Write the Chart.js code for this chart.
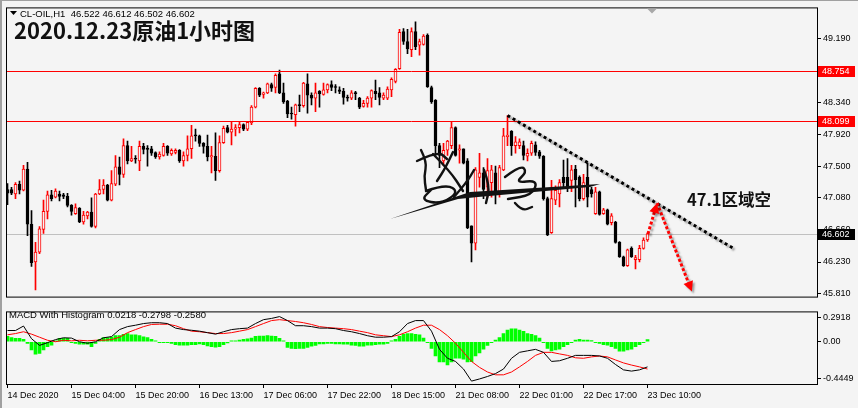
<!DOCTYPE html>
<html>
<head>
<meta charset="utf-8">
<script src="https://cdn.jsdelivr.net/npm/chart.js@4.4.1/dist/chart.umd.min.js"></script>
<style>
html, body { margin: 0; padding: 0; background: #f4f4f4; }
#wrap { position: relative; width: 858px; height: 408px; overflow: hidden; background: #f4f4f4; border-top: 1px solid #a0a0a0; border-left: 2px solid #a0a0a0; box-sizing: border-box; }
canvas { position: absolute; left: -2px; }
#main { top: -1px; }
#macd { top: 303px; }
.txt { position: absolute; white-space: pre; line-height: 1; color: #000; }
.small { font: 9.5px "Liberation Sans", Arial, sans-serif; }
.big { font-family: "Noto Sans CJK SC", sans-serif; font-weight: bold; color: #111; }
</style>
</head>
<body>
<div id="wrap">
  <canvas id="main" width="858" height="304"></canvas>
  <canvas id="macd" width="858" height="104"></canvas>
  <div class="txt small" style="left:18px; top:7.3px;">CL-OIL,H1  46.522 46.612 46.502 46.602</div>
  <div class="txt big" style="left:12px; top:17.2px; font-size:22px;">2020.12.23原油1小时图</div>
  <div class="txt big" style="left:685px; top:189.6px; font-size:16.5px;">47.1区域空</div>
  <div class="txt small" style="left:7px; top:307.5px;">MACD With Histogram 0.0218 -0.2798 -0.2580</div>
</div>
<script>
// x axis labels, one every 16 hourly bars
const tickLabels = ['14 Dec 2020', '15 Dec 04:00', '15 Dec 20:00', '16 Dec 13:00', '17 Dec 06:00',
  '17 Dec 22:00', '18 Dec 15:00', '21 Dec 08:00', '22 Dec 01:00', '22 Dec 17:00', '23 Dec 10:00'];

// CL-OIL H1 candles
const opens = [
  47.19,47.19,47.13,47.26,47.18,47.46,46.73,46.23,46.36,46.66,
  46.90,47.12,47.09,47.13,47.12,47.10,46.98,46.87,46.94,46.76,
  46.84,46.89,46.70,47.13,47.19,47.25,47.05,47.26,47.49,47.39,
  47.77,47.57,47.60,47.57,47.76,47.74,47.73,47.68,47.62,47.64,
  47.76,47.66,47.68,47.71,47.57,47.64,47.73,47.91,47.90,47.80,
  47.76,47.62,47.63,47.44,47.81,48.01,47.95,47.99,48.01,48.05,
  47.99,48.07,48.28,48.53,48.45,48.47,48.58,48.54,48.72,48.47,
  48.36,48.20,48.18,48.31,48.30,48.59,48.44,48.40,48.49,48.45,
  48.51,48.58,48.55,48.51,48.49,48.41,48.40,48.47,48.40,48.29,
  48.33,48.40,48.49,48.47,48.40,48.40,48.51,48.62,48.79,49.28,
  49.15,49.04,49.28,49.10,49.11,49.23,48.54,48.37,47.77,47.57,
  47.71,47.77,48.01,47.71,47.73,47.57,46.71,46.48,47.35,47.41,
  47.22,47.28,47.41,47.13,47.45,47.89,47.96,47.77,47.77,47.77,
  47.63,47.67,47.78,47.69,47.63,47.07,46.62,47.05,47.13,47.35,
  47.35,47.31,47.46,47.35,47.07,47.35,47.19,46.87,47.16,46.87,
  46.92,46.75,46.76,46.49,46.30,46.18,46.41,46.26,46.26,46.41,
  46.522];
const highs = [
  47.27,47.22,47.28,47.30,47.51,47.55,46.91,46.49,46.70,47.05,
  47.17,47.18,47.20,47.17,47.14,47.14,46.99,47.00,46.95,46.90,
  46.90,47.08,47.14,47.32,47.32,47.26,47.44,47.64,47.62,47.86,
  47.83,47.76,47.64,47.83,47.80,47.77,47.76,47.69,47.69,47.80,
  47.77,47.73,47.73,47.72,47.69,47.90,48.04,47.99,47.91,47.81,
  47.91,47.76,47.94,47.90,48.03,48.04,48.08,48.05,48.08,48.06,
  48.09,48.30,48.54,48.54,48.48,48.60,48.60,48.72,48.77,48.60,
  48.37,48.28,48.32,48.44,48.61,48.72,48.47,48.60,48.50,48.60,
  48.59,48.63,48.58,48.55,48.53,48.44,48.50,48.49,48.41,48.37,
  48.42,48.51,48.64,48.54,48.47,48.55,48.67,48.79,49.31,49.32,
  49.31,49.33,49.41,49.18,49.24,49.25,48.56,48.38,47.80,47.80,
  47.84,48.08,48.02,47.78,47.73,47.60,46.71,47.48,47.67,47.48,
  47.60,47.51,47.50,47.51,48.00,48.17,47.97,47.89,47.86,47.83,
  47.73,47.83,47.82,47.71,47.64,47.09,47.31,47.24,47.32,47.58,
  47.60,47.51,47.51,47.37,47.39,47.54,47.22,47.22,47.17,46.94,
  46.93,46.87,46.77,46.50,46.31,46.40,46.43,46.32,46.45,46.55,
  46.612];
const lows = [
  46.99,47.12,47.07,47.13,47.17,46.58,46.17,45.86,46.34,46.61,
  46.80,47.04,47.08,47.04,47.07,46.96,46.85,46.86,46.75,46.73,
  46.80,46.69,46.68,47.12,47.13,47.04,47.04,47.24,47.25,47.35,
  47.53,47.56,47.54,47.44,47.66,47.50,47.64,47.60,47.59,47.63,
  47.64,47.64,47.66,47.55,47.50,47.57,47.60,47.83,47.76,47.67,
  47.57,47.41,47.31,47.42,47.80,47.94,47.78,47.90,47.94,47.97,
  47.97,48.05,48.27,48.42,48.40,48.46,48.49,48.47,48.46,48.33,
  48.14,48.12,48.03,48.22,48.28,48.20,48.31,48.22,48.28,48.44,
  48.47,48.50,48.47,48.46,48.32,48.36,48.38,48.38,48.26,48.28,
  48.28,48.28,48.38,48.31,48.38,48.38,48.42,48.60,48.78,49.11,
  48.99,48.95,49.04,48.97,49.10,48.54,48.33,47.64,47.48,47.51,
  47.64,47.73,47.63,47.54,47.53,46.67,46.23,46.39,47.22,47.07,
  47.09,47.09,47.00,47.09,47.44,47.77,47.64,47.67,47.73,47.58,
  47.57,47.64,47.64,47.60,47.05,46.58,46.61,46.99,46.96,47.22,
  47.16,47.16,46.96,47.04,47.05,46.96,47.09,46.86,46.85,46.86,
  46.72,46.72,46.48,46.29,46.17,46.17,46.29,46.14,46.23,46.40,
  46.502];
const closes = [
  47.14,47.14,47.26,47.18,47.46,46.73,46.22,46.36,46.67,46.90,
  47.12,47.07,47.17,47.10,47.10,46.98,46.90,46.95,46.76,46.85,
  46.89,46.70,47.13,47.19,47.25,47.05,47.27,47.49,47.39,47.77,
  47.57,47.60,47.59,47.76,47.72,47.72,47.67,47.62,47.66,47.76,
  47.67,47.71,47.71,47.57,47.64,47.73,47.90,47.90,47.80,47.76,
  47.62,47.64,47.44,47.81,48.00,47.95,47.99,48.01,48.05,47.99,
  48.08,48.28,48.53,48.44,48.47,48.59,48.53,48.70,48.47,48.35,
  48.19,48.19,48.31,48.30,48.60,48.44,48.40,48.47,48.46,48.51,
  48.58,48.54,48.54,48.49,48.41,48.40,48.47,48.46,48.28,48.33,
  48.40,48.50,48.46,48.41,48.44,48.52,48.65,48.78,49.27,49.15,
  49.05,49.28,49.08,49.15,49.22,48.55,48.35,47.77,47.64,47.71,
  47.83,48.01,47.64,47.73,47.54,46.68,46.48,47.45,47.41,47.19,
  47.44,47.45,47.16,47.48,47.90,47.91,47.77,47.82,47.82,47.64,
  47.67,47.80,47.68,47.63,47.07,46.59,47.07,47.18,47.28,47.28,
  47.22,47.45,47.32,47.07,47.28,47.09,47.13,47.16,46.86,46.92,
  46.73,46.84,46.49,46.30,46.18,46.39,46.30,46.29,46.41,46.52,
  46.602];

// MACD histogram, one per bar
const hist = [
  .066,.05,.04,.04,.03,-.02,-.10,-.15,-.14,-.10,
  -.06,-.04,.01,.04,.04,.04,-.01,-.02,-.03,-.03,
  -.03,-.06,-.02,.03,.05,.05,.055,.075,.075,.09,
  .10,.085,.085,.075,.06,.05,.03,.01,-.01,-.01,
  -.01,-.02,-.035,-.04,-.04,-.04,-.035,-.035,-.025,-.035,
  -.05,-.06,-.065,-.06,-.035,-.015,.01,.01,.02,.03,
  .035,.045,.065,.07,.07,.075,.07,.065,.04,.01,
  -.07,-.08,-.085,-.08,-.08,-.07,-.055,-.045,-.025,-.025,
  -.02,-.02,-.025,-.025,-.03,-.03,-.04,-.045,-.055,-.055,
  -.04,-.04,-.035,-.03,-.03,-.02,.005,.03,.065,.09,
  .10,.10,.09,.085,.045,-.01,-.08,-.17,-.245,-.245,
  -.28,-.245,-.20,-.20,-.21,-.245,-.24,-.17,-.135,-.09,
  -.045,-.01,.02,.05,.10,.14,.155,.155,.14,.125,
  .10,.09,.075,.045,-.01,-.08,-.11,-.10,-.09,-.06,
  -.035,-.01,.02,.03,.02,.02,.015,-.01,-.02,-.035,
  -.04,-.06,-.08,-.115,-.115,-.10,-.09,-.06,-.035,-.01,
  .025];

// MACD and signal lines, read every second bar
const lineStep = 2;
const macdLine = [
  .136,.136,.19,.037,-.044,-.011,.026,.048,.044,0,
  -.018,0,.048,.062,.147,.183,.20,.22,.23,.23,
  .22,.165,.147,.139,.128,.11,.092,.121,.147,.158,
  .165,.22,.267,.282,.304,.256,.194,.194,.183,.165,
  .165,.158,.136,.121,.099,.073,.055,.055,.062,.121,
  .22,.256,.256,.128,-.092,-.20,-.238,-.33,-.476,-.45,
  -.42,-.385,-.33,-.20,-.128,-.11,-.092,-.128,-.238,-.23,
  -.20,-.165,-.165,-.165,-.172,-.20,-.275,-.34,-.355,-.34,
  -.304];
const signalLine = [
  .084,.099,.121,.092,.055,.018,0,.018,.011,.018,
  .011,.018,.018,.026,.055,.11,.147,.183,.209,.212,
  .212,.194,.158,.128,.121,.11,.099,.099,.11,.128,
  .147,.183,.22,.256,.267,.256,.245,.23,.209,.183,
  .172,.165,.158,.147,.128,.11,.084,.073,.062,.084,
  .121,.165,.20,.20,.147,.073,-.018,-.128,-.238,-.31,
  -.366,-.40,-.40,-.366,-.304,-.238,-.165,-.128,-.128,-.147,
  -.165,-.194,-.20,-.183,-.172,-.183,-.22,-.256,-.282,-.304,
  -.33];

const priceTicks = [45.81, 46.23, 46.66, 47.08, 47.50, 47.92, 48.34, 49.19];
const macdTicks = [0.2918, 0, -0.4449];
const macdTickText = ['0.2918', '0.00', '-0.4449'];
const levels = [48.754, 48.099];
const bid = 46.602;

// drawn objects: trend line and the red forecast arrow (bar index, price)
const trendIdx = [125, 181.5];
const trendPrice = [48.17, 46.41];
const arrowIdx = [160.1, 162.4, 171.1];
const arrowPrice = [46.60, 47.01, 45.84];

const bull = '#ff0000', bear = '#000000', bg = '#f4f4f4';
const font9 = { family: 'Liberation Sans', size: 9 };
const up = closes.map((c, i) => c >= opens[i]);

const xRange = { min: -0.375, max: 202.375 };

function frame(chart) {
  const { ctx, chartArea: a } = chart;
  ctx.save();
  ctx.strokeStyle = '#000';
  ctx.lineWidth = 1;
  ctx.strokeRect(a.left + 0.5, a.top + 0.5, a.right - a.left, a.bottom - a.top);
  ctx.restore();
}

function dotted(ctx, pts, color, dash) {
  ctx.strokeStyle = color;
  ctx.lineWidth = 3;
  ctx.setLineDash(dash);
  ctx.beginPath();
  ctx.moveTo(pts[0][0], pts[0][1]);
  for (let k = 1; k < pts.length; k++) ctx.lineTo(pts[k][0], pts[k][1]);
  ctx.stroke();
  ctx.setLineDash([]);
}

function head(ctx, from, to, color) {
  const ang = Math.atan2(to[1] - from[1], to[0] - from[0]);
  const L = 10, W = 5;
  ctx.fillStyle = color;
  ctx.beginPath();
  ctx.moveTo(to[0], to[1]);
  ctx.lineTo(to[0] - L * Math.cos(ang) + W * Math.sin(ang), to[1] - L * Math.sin(ang) - W * Math.cos(ang));
  ctx.lineTo(to[0] - L * Math.cos(ang) - W * Math.sin(ang), to[1] - L * Math.sin(ang) + W * Math.cos(ang));
  ctx.closePath();
  ctx.fill();
}

// watermark signature, rough freehand strokes
const sigStrokes = [
  [[421,150],[427,162],[424,176],[426,190]],
  [[417,161],[438,151],[447,159]],
  [[433,154],[450,171],[463,191]],
  [[453,152],[446,167],[437,181]],
  [[426,191],[446,184],[459,192],[441,204],[421,200],[431,190]],
  [[454,197],[467,182],[474,170]],
  [[484,170],[490,186],[486,203]],
  [[505,177],[521,165],[527,172],[515,183],[538,180],[532,195],[508,199]],
  [[515,203],[522,211],[532,207]]
];

const mainDecor = {
  id: 'mainDecor',
  beforeDatasetsDraw(chart) {
    const { ctx, chartArea: a, scales: { y } } = chart;
    ctx.save();
    ctx.fillStyle = '#c0c0c0';
    ctx.fillRect(a.left, Math.round(y.getPixelForValue(bid)), a.right - a.left, 1);
    ctx.restore();
  },
  afterDatasetsDraw(chart) {
    const { ctx, chartArea: a, scales: { x, y } } = chart;
    ctx.save();
    // horizontal levels
    ctx.strokeStyle = '#ff0000';
    ctx.lineWidth = 1;
    levels.forEach(v => {
      const py = Math.round(y.getPixelForValue(v)) + 0.5;
      ctx.beginPath();
      ctx.moveTo(a.left, py);
      ctx.lineTo(a.right, py);
      ctx.stroke();
    });
    // signature
    ctx.strokeStyle = '#111';
    ctx.lineCap = 'round';
    ctx.lineJoin = 'round';
    ctx.lineWidth = 2.4;
    sigStrokes.forEach(s => {
      ctx.beginPath();
      ctx.moveTo(s[0][0], s[0][1]);
      for (let k = 1; k < s.length - 1; k++) {
        const mx = (s[k][0] + s[k + 1][0]) / 2, my = (s[k][1] + s[k + 1][1]) / 2;
        ctx.quadraticCurveTo(s[k][0], s[k][1], mx, my);
      }
      ctx.lineTo(s[s.length - 1][0], s[s.length - 1][1]);
      ctx.stroke();
    });
    ctx.fillStyle = '#111';
    ctx.beginPath();
    ctx.moveTo(390, 219); ctx.lineTo(470, 192); ctx.lineTo(600, 184);
    ctx.lineTo(590, 187); ctx.lineTo(478, 197); ctx.lineTo(458, 199);
    ctx.closePath();
    ctx.fill();

    // trend line and arrow with soft shadow
    ctx.shadowColor = 'rgba(0,0,0,0.35)';
    ctx.shadowBlur = 2;
    ctx.shadowOffsetX = 2;
    ctx.shadowOffsetY = 2;
    ctx.lineCap = 'butt';
    const tp = trendIdx.map((v, k) => [x.getPixelForValue(v), y.getPixelForValue(trendPrice[k])]);
    dotted(ctx, tp, '#000', [3, 3]);
    const ap = arrowIdx.map((v, k) => [x.getPixelForValue(v), y.getPixelForValue(arrowPrice[k])]);
    const shorten = (p, q, d) => {
      const len = Math.hypot(q[0] - p[0], q[1] - p[1]);
      return [q[0] - (q[0] - p[0]) * d / len, q[1] - (q[1] - p[1]) * d / len];
    };
    dotted(ctx, [ap[0], shorten(ap[0], ap[1], 8)], '#ff0000', [3, 2]);
    dotted(ctx, [ap[1], shorten(ap[1], ap[2], 8)], '#ff0000', [3, 2]);
    head(ctx, ap[0], ap[1], '#ff0000');
    head(ctx, ap[1], ap[2], '#ff0000');
    ctx.restore();
  },
  afterDraw(chart) {
    const { ctx, chartArea: a, scales: { y } } = chart;
    frame(chart);
    ctx.save();
    ctx.font = '9px "Liberation Sans"';
    ctx.textBaseline = 'middle';
    const tag = (v, color) => {
      const py = Math.round(y.getPixelForValue(v));
      ctx.fillStyle = color;
      ctx.fillRect(a.right + 1, py - 5, 37, 11);
      ctx.fillStyle = '#fff';
      ctx.fillText(v.toFixed(3), a.right + 5, py + 0.5);
    };
    levels.forEach(v => tag(v, '#ff0000'));
    tag(bid, '#000');
    // small menu triangle and chart shift marker
    ctx.fillStyle = '#000';
    ctx.beginPath(); ctx.moveTo(10, 11); ctx.lineTo(17, 11); ctx.lineTo(13.5, 15); ctx.closePath(); ctx.fill();
    ctx.fillStyle = '#a8a8a8';
    ctx.beginPath(); ctx.moveTo(647, a.top + 1); ctx.lineTo(657, a.top + 1); ctx.lineTo(652, a.top + 6); ctx.closePath(); ctx.fill();
    ctx.restore();
  }
};

new Chart(document.getElementById('main'), {
  type: 'bar',
  data: {
    datasets: [
      {
        data: closes.map((c, i) => ({ x: i, y: [opens[i], c] })),
        backgroundColor: up.map(u => u ? bg : bear),
        borderColor: up.map(u => u ? bull : bear),
        borderWidth: 1,
        borderSkipped: false,
        barThickness: 3,
        minBarLength: 1,
        grouped: false,
        order: 0
      },
      {
        data: highs.map((h, i) => ({ x: i, y: [lows[i], h] })),
        backgroundColor: up.map(u => u ? bull : bear),
        borderWidth: 0,
        barThickness: 1,
        grouped: false,
        order: 1
      }
    ]
  },
  options: {
    responsive: false,
    animation: false,
    devicePixelRatio: 1,
    layout: { padding: { left: 6, top: 5, right: 0, bottom: 0 } },
    plugins: { legend: { display: false }, tooltip: { enabled: false } },
    scales: {
      x: { type: 'linear', display: false, offset: false, min: xRange.min, max: xRange.max },
      y: {
        position: 'right',
        min: 45.772,
        max: 49.601,
        afterFit: s => { s.width = 41; },
        afterBuildTicks: s => { s.ticks = priceTicks.map(v => ({ value: v })); },
        ticks: { callback: v => v.toFixed(3), color: '#000', padding: 2, font: font9 },
        grid: { drawOnChartArea: false, drawTicks: true, tickLength: 4, color: '#000' },
        border: { display: false }
      }
    }
  },
  plugins: [mainDecor]
});

const macdFrame = { id: 'macdFrame', afterDraw: frame };

new Chart(document.getElementById('macd'), {
  type: 'bar',
  data: {
    datasets: [
      {
        type: 'line',
        data: macdLine.map((v, k) => ({ x: k * lineStep, y: v })),
        borderColor: '#000',
        borderWidth: 1,
        pointRadius: 0,
        tension: 0,
        order: 0
      },
      {
        type: 'line',
        data: signalLine.map((v, k) => ({ x: k * lineStep, y: v })),
        borderColor: '#ff0000',
        borderWidth: 1,
        pointRadius: 0,
        tension: 0,
        order: 1
      },
      {
        data: hist.map((v, i) => ({ x: i, y: v })),
        backgroundColor: '#00ff00',
        barThickness: 3,
        minBarLength: 1,
        grouped: false,
        order: 2
      }
    ]
  },
  options: {
    responsive: false,
    animation: false,
    devicePixelRatio: 1,
    layout: { padding: { left: 6, top: 2, right: 0, bottom: 0 } },
    plugins: { legend: { display: false }, tooltip: { enabled: false } },
    scales: {
      x: {
        type: 'linear',
        position: 'bottom',
        offset: false,
        min: xRange.min,
        max: xRange.max,
        afterFit: s => { s.height = 24; },
        afterBuildTicks: s => { s.ticks = tickLabels.map((t, k) => ({ value: k * 16 })); },
        ticks: { align: 'start', maxRotation: 0, autoSkip: false, padding: 2, color: '#000', font: font9,
          callback: v => tickLabels[v / 16] },
        grid: { drawOnChartArea: false, drawTicks: true, tickLength: 4, color: '#000', offset: false },
        border: { display: false }
      },
      y: {
        position: 'right',
        min: -0.511,
        max: 0.367,
        afterFit: s => { s.width = 41; },
        afterBuildTicks: s => { s.ticks = macdTicks.map(v => ({ value: v })); },
        ticks: { callback: (v, k) => macdTickText[k], color: '#000', padding: 2, font: font9 },
        grid: { drawOnChartArea: false, drawTicks: true, tickLength: 4, color: '#000' },
        border: { display: false }
      }
    }
  },
  plugins: [macdFrame]
});
</script>
</body>
</html>
